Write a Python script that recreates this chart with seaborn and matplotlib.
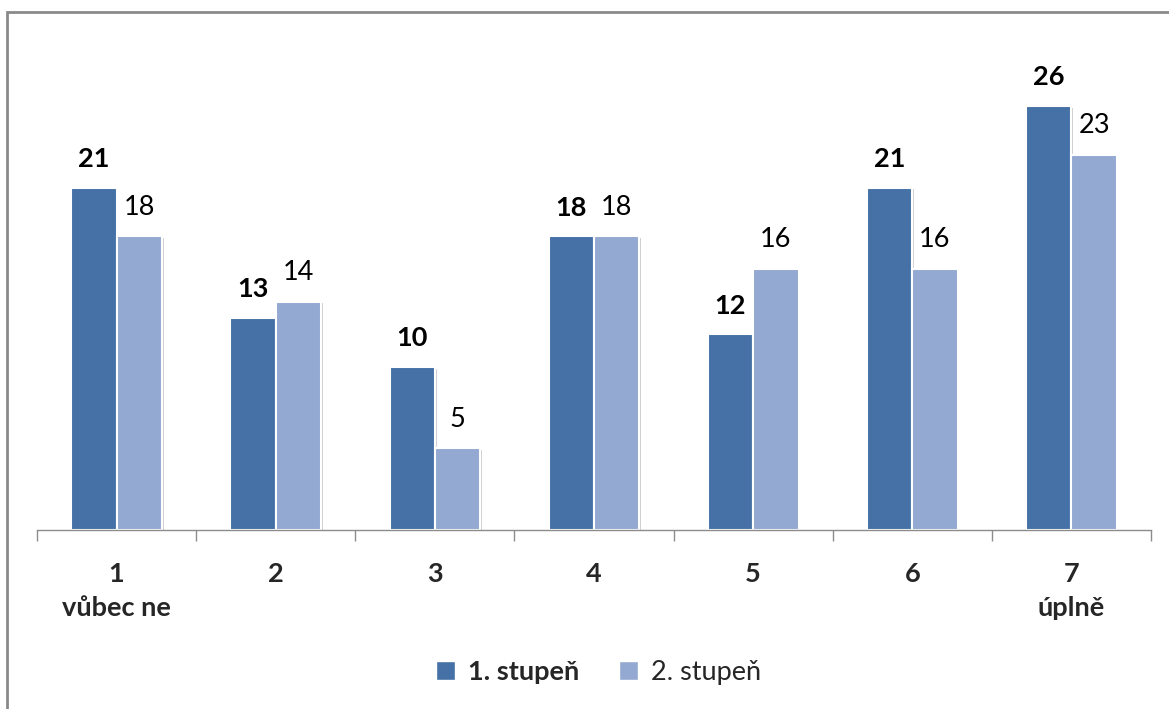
import matplotlib
matplotlib.use("Agg")
import matplotlib.pyplot as plt
import matplotlib.patheffects as pe
from matplotlib.patches import Rectangle, Patch
from matplotlib.ticker import FixedLocator
import seaborn as sns
import pandas as pd

# Data
categories = ["1", "2", "3", "4", "5", "6", "7"]
tick_labels = ["1\nvůbec ne", "2", "3", "4", "5", "6", "7\núplně"]
series_names = ["1. stupeň", "2. stupeň"]
stupen_1 = [21, 13, 10, 18, 12, 21, 26]
stupen_2 = [18, 14, 5, 18, 16, 16, 23]

df = pd.DataFrame({
    "kategorie": categories * 2,
    "stupeň": [series_names[0]] * len(categories) + [series_names[1]] * len(categories),
    "počet": stupen_1 + stupen_2,
})

sns.set_style("white")
plt.rcParams["font.family"] = ["Lato", "DejaVu Sans"]

dark = "#4571A6"
light = "#94A9D1"

fig = plt.figure(figsize=(11.69, 7.09), dpi=100)
ax = fig.add_axes([0.0317, 0.2525, 0.9529, 0.69])

sns.barplot(data=df, x="kategorie", y="počet", hue="stupeň",
            order=categories, hue_order=series_names,
            palette=[dark, light], saturation=1, width=0.57, gap=0,
            edgecolor="white", linewidth=1.5, ax=ax, legend=False)

shadow = [pe.SimplePatchShadow(offset=(1.2, -1.2), shadow_rgbFace="#000000", alpha=0.18),
          pe.Normal()]
for patch in ax.patches:
    patch.set_path_effects(shadow)

# value labels
for container, weight in zip(ax.containers, ["bold", "normal"]):
    ax.bar_label(container, padding=12, fontsize=19.5, fontweight=weight, color="black")

ax.set_ylim(0, 30)
ax.set_xlim(-0.5, len(categories) - 0.5)
ax.set_xlabel("")
ax.set_ylabel("")
ax.set_yticks([])

ax.xaxis.set_major_locator(FixedLocator(range(len(categories))))
ax.set_xticklabels(tick_labels, fontsize=19.5, fontweight="bold", linespacing=1.5,
                   va="top")
ax.xaxis.set_minor_locator(FixedLocator([i - 0.5 for i in range(len(categories) + 1)]))
ax.tick_params(axis="x", which="major", length=0, pad=23)
ax.tick_params(axis="x", which="minor", length=8, width=1, color="#8c8c8c",
               direction="out", bottom=True)

for side in ["left", "top", "right"]:
    ax.spines[side].set_visible(False)
ax.spines["bottom"].set_color("#8c8c8c")
ax.spines["bottom"].set_linewidth(1)

# legend
handles = [Patch(facecolor=dark, edgecolor="white"), Patch(facecolor=light, edgecolor="white")]
leg = fig.legend(handles, series_names, loc="center", bbox_to_anchor=(0.512, 0.052),
                 ncol=2, frameon=False, fontsize=19.5, handlelength=0.7, handleheight=0.7,
                 handletextpad=0.45, columnspacing=1.5)
leg.get_texts()[0].set_fontweight("bold")

# chart frame
fig.patches.append(Rectangle((7 / 1169, -0.1), 1.2, 1 - 12 / 709 + 0.1,
                             transform=fig.transFigure, fill=False,
                             edgecolor="#8a8a8a", linewidth=2))

fig.savefig("out.png", dpi=100)
